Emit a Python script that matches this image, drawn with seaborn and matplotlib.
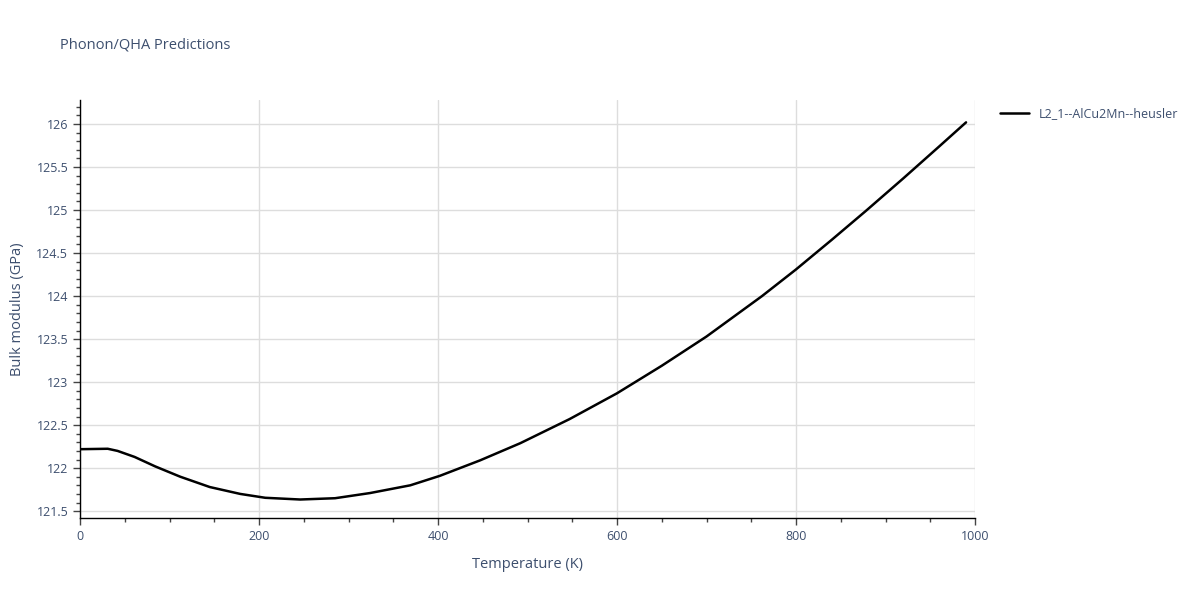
import numpy as np
import pandas as pd
import matplotlib
matplotlib.use("Agg")
import matplotlib.pyplot as plt
import seaborn as sns
from matplotlib.ticker import MultipleLocator

# Veriler
temperature = [0, 31, 42, 61, 84, 112, 145, 179, 207, 246, 285, 324, 369, 402,
               447, 492, 547, 600, 650, 700, 762, 800, 840, 878, 920, 960, 990]
bulk_modulus = [122.22, 122.225, 122.20, 122.13, 122.02, 121.90, 121.78, 121.70,
                121.655, 121.635, 121.65, 121.71, 121.80, 121.91, 122.09, 122.29,
                122.57, 122.87, 123.19, 123.53, 124.0, 124.31, 124.655, 124.99,
                125.37, 125.74, 126.02]
series_name = "L2_1--AlCu2Mn--heusler"

df = pd.DataFrame({"Temperature (K)": temperature,
                   "Bulk modulus (GPa)": bulk_modulus,
                   "Material": series_name})

sns.set_theme(style="white")
plt.rcParams['font.family'] = ['Open Sans', 'DejaVu Sans']
text_col = "#3d4f6e"
grid_col = "#dddddd"

fig = plt.figure(figsize=(12, 6), dpi=100)
ax = fig.add_axes([80/1200, 1-518/600, (975-80)/1200, (518-100)/600])

sns.lineplot(data=df, x="Temperature (K)", y="Bulk modulus (GPa)", hue="Material",
             palette=["black"], linewidth=1.8, ax=ax)

ax.set_xlim(0, 1000)
ax.set_ylim(121.42, 126.28)
ax.xaxis.set_major_locator(MultipleLocator(200))
ax.xaxis.set_minor_locator(MultipleLocator(50))
ax.yaxis.set_major_locator(MultipleLocator(0.5))
ax.yaxis.set_minor_locator(MultipleLocator(0.1))
ax.yaxis.set_major_formatter(plt.FuncFormatter(lambda v, p: f"{v:g}"))

ax.grid(True, which="major", color=grid_col, linewidth=1)
for s in ["top", "right"]:
    ax.spines[s].set_visible(False)
for s in ["left", "bottom"]:
    ax.spines[s].set_color("black")
    ax.spines[s].set_linewidth(1)

ax.tick_params(which="major", direction="out", length=5, width=1, color="#444444",
               labelsize=9, labelcolor=text_col, left=True, bottom=True)
ax.tick_params(which="minor", direction="out", length=3, width=1, color="#444444",
               left=True, bottom=True)

ax.set_xlabel("Temperature (K)", fontsize=10.5, color=text_col, labelpad=10)
ax.set_ylabel("Bulk modulus (GPa)", fontsize=10.5, color=text_col, labelpad=8)

fig.text(60/1200, 1-45/600, "Phonon/QHA Predictions", fontsize=10.5,
         color=text_col, va="center", ha="left")

leg = ax.legend(loc="upper left", bbox_to_anchor=(1.02, 1.0), frameon=False,
                fontsize=9, handlelength=2.3, borderaxespad=0.2)
for t in leg.get_texts():
    t.set_color(text_col)

fig.savefig("out.png", dpi=100)
